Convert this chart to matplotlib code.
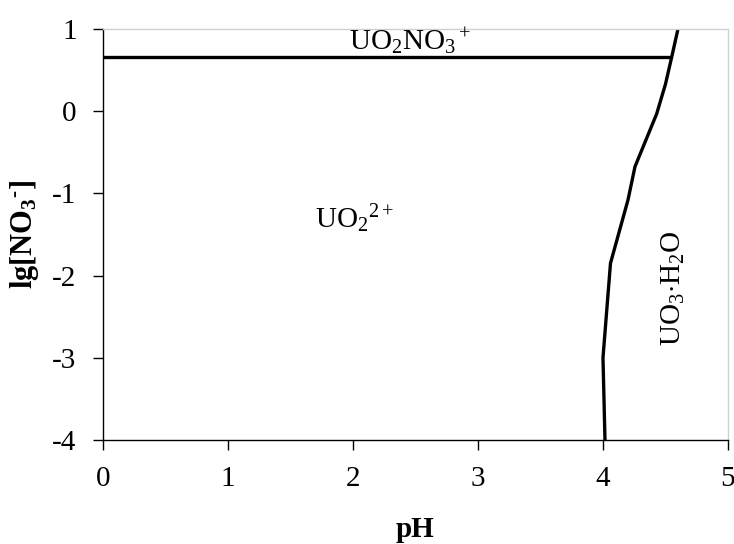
import matplotlib
matplotlib.use("Agg")
import matplotlib.pyplot as plt

plt.rcParams['font.family'] = ['Liberation Serif', 'DejaVu Serif']
plt.rcParams['mathtext.fontset'] = 'custom'
plt.rcParams['mathtext.rm'] = 'Liberation Serif'
plt.rcParams['mathtext.it'] = 'Liberation Serif:italic'
plt.rcParams['mathtext.bf'] = 'Liberation Serif:bold'
plt.rcParams['axes.unicode_minus'] = False

# Boundary between UO2(2+) and UO2NO3(+)
nitrate_ph = [0.0, 4.55]
nitrate_lg = [0.66, 0.66]

# Boundary of UO3·H2O precipitation
precip_ph = [4.016, 4.0, 4.06, 4.20, 4.256, 4.43, 4.50, 4.55, 4.60]
precip_lg = [-4.0, -3.0, -1.85, -1.08, -0.675, -0.03, 0.33, 0.66, 1.0]

x_ticks = [0, 1, 2, 3, 4, 5]
y_ticks = [-4, -3, -2, -1, 0, 1]

fig = plt.figure(figsize=(7.34, 5.44), dpi=100)
ax = fig.add_axes([0.1403, 0.1912, 0.8515, 0.7555])

ax.plot(nitrate_ph, nitrate_lg, color='black', lw=2.4, solid_capstyle='butt')
ax.plot(precip_ph, precip_lg, color='black', lw=2.4, solid_joinstyle='round')

ax.set_xlim(0, 5)
ax.set_ylim(-4, 1)
ax.set_xticks(x_ticks)
ax.set_yticks(y_ticks)
ax.tick_params(direction='out', length=7, width=1.0, labelsize=21, pad=12, colors='black')

for side in ('left', 'bottom'):
    ax.spines[side].set_color('black')
    ax.spines[side].set_linewidth(1.0)
for side in ('top', 'right'):
    ax.spines[side].set_color('#d0d0d0')
    ax.spines[side].set_linewidth(1.0)

ax.set_xlabel('pH', fontsize=21, fontweight='bold', labelpad=17)
ax.set_ylabel('lg[NO$_\\mathbf{3}$$^\\mathbf{\u2010}$]', fontsize=22, fontweight='bold', labelpad=8)

ax.text(2.46, 0.74, r'UO$_2$NO$_3$$^+$', fontsize=21, ha='center', va='baseline')
ax.text(1.70, -1.42, r'UO$_2$$^{2+}$', fontsize=21, ha='left', va='baseline')
ax.text(4.56, -2.16, r'UO$_3$$\cdot$H$_2$O', fontsize=21, rotation=90,
        ha='center', va='center')

fig.savefig('out.png', dpi=100)
